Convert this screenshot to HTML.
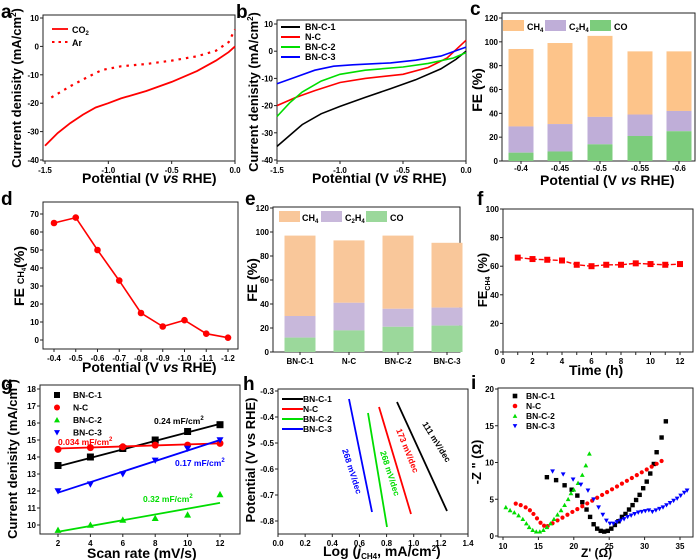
<!DOCTYPE html>
<html><head><meta charset="utf-8"><style>
body{margin:0;background:#fff}
svg{display:block;font-family:"Liberation Sans",Arial,sans-serif;font-weight:bold}
</style></head><body>
<svg id="s" width="700" height="560" viewBox="0 0 700 560" xmlns="http://www.w3.org/2000/svg"></svg>
<script>
const S=document.getElementById('s');let H='';
function L(a,b,c,d){return (v)=>c+(v-a)*(d-c)/(b-a);}
function box(x0,x1,y0,y1){H+=`<rect x="${x0}" y="${y0}" width="${x1-x0}" height="${y1-y0}" fill="none" stroke="#222" stroke-width="1"/>`;}
function xt(X,vals,y1,fmt,lab=true){vals.forEach(v=>{const x=X(v);H+=`<line x1="${x}" y1="${y1}" x2="${x}" y2="${y1+3}" stroke="#222"/>`;if(lab)H+=`<text x="${x}" y="${y1+12}" font-size="8" text-anchor="middle">${fmt(v)}</text>`;});}
function yt(Y,vals,x0,fmt){vals.forEach(v=>{const y=Y(v);H+=`<line x1="${x0-3}" y1="${y}" x2="${x0}" y2="${y}" stroke="#222"/><text x="${x0-4}" y="${y+3}" font-size="8" text-anchor="end">${fmt(v)}</text>`;});}
function pl(X,Y,pts,col,w=1.6,dash=''){H+=`<polyline fill="none" stroke="${col}" stroke-width="${w}" ${dash?`stroke-dasharray="${dash}"`:''} points="${pts.map(p=>X(p[0]).toFixed(1)+','+Y(p[1]).toFixed(1)).join(' ')}"/>`;}
function T(x,y,t,fs,extra=''){H+=`<text x="${x}" y="${y}" font-size="${fs}" ${extra}>${t}</text>`;}
function yl(x,y,t,fs=13){H+=`<text transform="translate(${x},${y}) rotate(-90)" font-size="${fs}" text-anchor="middle">${t}</text>`;}
const f1=v=>v.toFixed(1),f0=v=>String(v);
// a
let X=L(-1.5,0,45,235),Y=L(10,-40,18,160);
box(43,235,15,161);xt(X,[-1.5,-1,-0.5,0],161,f1);yt(Y,[10,0,-10,-20,-30,-40],43,f0);
pl(X,Y,[[-1.5,-35],[-1.4,-30.5],[-1.3,-27],[-1.2,-24],[-1.1,-21.5],[-1,-20],[-0.9,-18.3],[-0.7,-15.7],[-0.5,-12.5],[-0.3,-8.7],[-0.15,-5],[-0.05,-2],[0,0]],'#f00',1.8);
pl(X,Y,[[-1.45,-18],[-1.3,-14],[-1.15,-10.5],[-1.05,-8.3],[-0.9,-7],[-0.7,-6.2],[-0.5,-5],[-0.3,-3.5],[-0.15,-1.5],[-0.05,1.5],[0,6]],'#f00',2.2,'2.5,5');
H+=`<line x1="52" y1="29" x2="68" y2="29" stroke="#f00" stroke-width="1.8"/><line x1="52" y1="42" x2="68" y2="42" stroke="#f00" stroke-width="2" stroke-dasharray="2.5,4"/>`;
T(72,33,'CO<tspan font-size="6" dy="2">2</tspan>',9);T(72,46,'Ar',9);
T(1,18,'a',19);yl(21,88,'Current denisity (mA/cm<tspan font-size="8" dy="-5">2</tspan><tspan dy="5">)</tspan>');T(82,183,'Potential (V <tspan font-style="italic">vs</tspan> RHE)',14);
// b
X=L(-1.5,0,277,466);Y=L(10,-40,24,160);
box(277,466,20,161);xt(X,[-1.5,-1,-0.5,0],161,f1);yt(Y,[10,0,-10,-20,-30,-40],277,f0);
pl(X,Y,[[-1.5,-35],[-1.4,-31],[-1.3,-27],[-1.15,-23],[-1,-20.3],[-0.8,-17],[-0.6,-13.8],[-0.4,-10.5],[-0.2,-6.5],[-0.08,-3],[0,0]],'#000');
pl(X,Y,[[-1.5,-20],[-1.35,-17],[-1.2,-14.5],[-1,-11.5],[-0.8,-10],[-0.5,-8.5],[-0.3,-6],[-0.15,-2.5],[0,4]],'#f00');
pl(X,Y,[[-1.5,-24],[-1.4,-19],[-1.3,-15],[-1.15,-11],[-1,-8.5],[-0.8,-7],[-0.5,-5.8],[-0.3,-4.5],[-0.1,-2.5],[0,-0.5]],'#0d0');
pl(X,Y,[[-1.5,-12],[-1.35,-9.5],[-1.2,-7],[-1.05,-5.5],[-0.9,-5],[-0.6,-4.3],[-0.4,-3.3],[-0.2,-1.8],[0,1.5]],'#00f');
[['BN-C-1','#000'],['N-C','#f00'],['BN-C-2','#0d0'],['BN-C-3','#00f']].forEach((e,i)=>{const y=27+i*10;H+=`<line x1="281" y1="${y}" x2="300" y2="${y}" stroke="${e[1]}" stroke-width="2"/>`;T(305,y+3,e[0],9);});
T(236,18,'b',19);yl(258,92,'Current denisity (mA/cm<tspan font-size="8" dy="-5">2</tspan><tspan dy="5">)</tspan>');T(312,183,'Potential (V <tspan font-style="italic">vs</tspan> RHE)',14);
// bars
function bars(Y,xs,data,w,cols){data.forEach((d,i)=>{const x=xs[i]-w/2;H+=`<rect x="${x}" y="${Y(d[2])}" width="${w}" height="${Y(d[1])-Y(d[2])}" fill="${cols[0]}"/><rect x="${x}" y="${Y(d[1])}" width="${w}" height="${Y(d[0])-Y(d[1])}" fill="${cols[1]}"/><rect x="${x}" y="${Y(d[0])}" width="${w}" height="${Y(0)-Y(d[0])}" fill="${cols[2]}"/>`;});}
// c
Y=L(120,0,18,161);box(502,695,13,161);yt(Y,[0,20,40,60,80,100,120],502,f0);
let xs=[521,560,600,640,679];bars(Y,xs,[[7,29,94],[8,31,99],[14,37,105],[21,39,92],[25,42,92]],25,['#fdc48a','#bfaed8','#7ccc7c']);
xs.forEach((x,i)=>{H+=`<line x1="${x}" y1="161" x2="${x}" y2="164" stroke="#222"/>`;T(x,171,['-0.4','-0.45','-0.5','-0.55','-0.6'][i],8,'text-anchor="middle"');});
H+=`<rect x="503" y="20" width="21" height="11" fill="#fdc48a"/><rect x="545" y="20" width="21" height="11" fill="#bfaed8"/><rect x="590" y="20" width="21" height="11" fill="#7ccc7c"/>`;
T(527,30,'CH<tspan font-size="6" dy="2">4</tspan>',9);T(569,30,'C<tspan font-size="6" dy="2">2</tspan><tspan dy="-2">H</tspan><tspan font-size="6" dy="2">4</tspan>',9);T(614,30,'CO',9);
T(470,15,'c',19);yl(482,90,'FE (%)',14);T(540,185,'Potential (V <tspan font-style="italic">vs</tspan> RHE)',14);
// d
X=L(-0.4,-1.2,54,228);Y=L(70,0,214,340);
box(43,238,202,349);xt(X,[-0.4,-0.5,-0.6,-0.7,-0.8,-0.9,-1,-1.1,-1.2],349,f1);yt(Y,[0,10,20,30,40,50,60,70],43,f0);
let dd=[[-0.4,65],[-0.5,68],[-0.6,50],[-0.7,33],[-0.8,15],[-0.9,7.5],[-1,11],[-1.1,3.5],[-1.2,1.3]];pl(X,Y,dd,'#f00',1.6);
dd.forEach(p=>H+=`<circle cx="${X(p[0])}" cy="${Y(p[1])}" r="3.3" fill="#f00"/>`);
T(1,205,'d',19);yl(24,276,'FE <tspan font-size="9">CH</tspan><tspan font-size="6" dy="2">4</tspan><tspan dy="-2">(%)</tspan>',14);T(82,372,'Potential (V <tspan font-style="italic">vs</tspan> RHE)',14);
// e
Y=L(120,0,208,352);box(273,460,207,352);yt(Y,[0,20,40,60,80,100,120],273,f0);
xs=[300,349,398,447];bars(Y,xs,[[12,30,97],[18,41,93],[21,36,97],[22,37,91]],31,['#f9c79a','#c8b8db','#9bd89b']);
xs.forEach((x,i)=>{H+=`<line x1="${x}" y1="352" x2="${x}" y2="355" stroke="#222"/>`;T(x,364,['BN-C-1','N-C','BN-C-2','BN-C-3'][i],8,'text-anchor="middle"');});
H+=`<rect x="279" y="211" width="21" height="11" fill="#f9c79a"/><rect x="321" y="211" width="21" height="11" fill="#c8b8db"/><rect x="366" y="211" width="21" height="11" fill="#9bd89b"/>`;
T(302,221,'CH<tspan font-size="6" dy="2">4</tspan>',9);T(345,221,'C<tspan font-size="6" dy="2">2</tspan><tspan dy="-2">H</tspan><tspan font-size="6" dy="2">4</tspan>',9);T(390,221,'CO',9);
T(245,205,'e',19);yl(257,280,'FE (%)',14);
// f
X=L(0,12,503,680);Y=L(100,0,209,352);
box(503,693,209,352);xt(X,[0,2,4,6,8,10,12],352,f0);yt(Y,[0,20,40,60,80,100],503,f0);
for(let v=1;v<12;v+=2)xt(X,[v],352,f0,false);
let fd=[[1,66],[2,65],[3,64.5],[4,64],[5,61],[6,60],[7,61],[8,61],[9,62],[10,61.5],[11,61],[12,61.5]];pl(X,Y,fd,'#f00',1.4,'5,2');
fd.forEach(p=>H+=`<rect x="${X(p[0])-3}" y="${Y(p[1])-3}" width="6" height="6" fill="#f00"/>`);
T(477,205,'f',19);yl(487,280,'FE<tspan font-size="7" dy="3">CH4</tspan><tspan dy="-3"> (%)</tspan>',13);T(569,375,'Time (h)',14);
// g
X=L(2,12,58,220);Y=L(18,10,389,525);
box(40,240,385,534);xt(X,[2,4,6,8,10,12],534,f0);yt(Y,[10,11,12,13,14,15,16,17,18],40,f0);
const gs=[['#000',[13.5,14,14.5,15,15.5,15.9],[13.45,15.95],'s'],['#f00',[14.45,14.55,14.6,14.7,14.7,14.8],[14.5,14.8],'c'],['#0d0',[9.7,10,10.3,10.4,10.6,11.8],[9.6,11.3],'t'],['#00f',[12,12.4,13,13.8,14.5,15],[11.9,15]
,'v']];
function mk(x,y,t,c,r=3.5){if(t=='s')return `<rect x="${x-r}" y="${y-r}" width="${2*r}" height="${2*r}" fill="${c}"/>`;if(t=='c')return `<circle cx="${x}" cy="${y}" r="${r}" fill="${c}"/>`;if(t=='t')return `<polygon points="${x},${y-r} ${x+r},${y+r*0.8} ${x-r},${y+r*0.8}" fill="${c}"/>`;return `<polygon points="${x},${y+r} ${x+r},${y-r*0.8} ${x-r},${y-r*0.8}" fill="${c}"/>`;}
gs.forEach(g=>{pl(X,Y,[[2,g[2][0]],[12,g[2][1]]],g[0],1.8);g[1].forEach((v,i)=>H+=mk(X(2+2*i),Y(v),g[3],g[0]));});
[['BN-C-1','s','#000'],['N-C','c','#f00'],['BN-C-2','t','#0d0'],['BN-C-3','v','#00f']].forEach((e,i)=>{const y=395+i*12.5;H+=mk(57,y,e[1],e[2],3);T(73,y+3,e[0],8.5);});
T(154,424,'0.24 mF/cm<tspan font-size="6" dy="-4">2</tspan>',8.5,'fill="#000"');T(58,445,'0.034 mF/cm<tspan font-size="6" dy="-4">2</tspan>',8.5,'fill="#f00"');
T(175,466,'0.17 mF/cm<tspan font-size="6" dy="-4">2</tspan>',8.5,'fill="#00f"');T(143,502,'0.32 mF/cm<tspan font-size="6" dy="-4">2</tspan>',8.5,'fill="#0d0"');
T(1,390,'g',19);yl(17,459,'Current denisity (mA/cm<tspan font-size="8" dy="-5">2</tspan><tspan dy="5">)</tspan>');T(87,558,'Scan rate (mV/s)',14);
// h
X=L(0,1.4,278,468);Y=L(-0.3,-0.8,391,521);
box(278,468,389,534);xt(X,[0,0.2,0.4,0.6,0.8,1,1.2,1.4],534,f1);yt(Y,[-0.3,-0.4,-0.5,-0.6,-0.7,-0.8],278,f1);
[[397,402,447,511,'#000'],[379,407,411,514,'#f00'],[368,413,387,527,'#0d0'],[349,399,372,512,'#00f']].forEach(l=>H+=`<line x1="${l[0]}" y1="${l[1]}" x2="${l[2]}" y2="${l[3]}" stroke="${l[4]}" stroke-width="1.8"/>`);
[['BN-C-1','#000'],['N-C','#f00'],['BN-C-2','#0d0'],['BN-C-3','#00f']].forEach((e,i)=>{const y=399+i*10;H+=`<line x1="282" y1="${y}" x2="303" y2="${y}" stroke="${e[1]}" stroke-width="2"/>`;T(303,y+3,e[0],8.5);});
T(422,424,'111 mV/dec',8.5,'transform="rotate(58 422 424)"');T(396,430,'173 mV/dec',8.5,'fill="#f00" transform="rotate(68 396 430)"');
T(380,452,'268 mV/dec',8.5,'fill="#0d0" transform="rotate(72 380 452)"');T(342,450,'268 mV/dec',8.5,'fill="#00f" transform="rotate(72 342 450)"');
T(243,390,'h',19);yl(255,460,'Potential (V vs RHE)',13);T(323,556,'Log (<tspan font-style="italic">j</tspan><tspan font-size="8" dy="3">CH4</tspan><tspan dy="-3">, mA/cm</tspan><tspan font-size="8" dy="-5">2</tspan><tspan dy="5">)</tspan>',14);
// i
X=L(10,35,503,680);Y=L(20,0,389,536);
box(498,693,388,537);xt(X,[10,15,20,25,30,35],537,f0);yt(Y,[0,5,10,15,20],498,f0);
const ib=[[16.2,8],[17.5,7.6],[18.7,6.9],[19.7,6.3],[20.5,5.5],[21.2,4.6],[21.8,3.6],[22.3,2.6],[22.8,1.6],[23.3,1],[23.8,0.7],[24.3,0.6],[24.8,0.7],[25.3,1],[25.8,1.5],[26.3,2],[26.8,2.6],[27.3,3],[27.8,3.6],[28.3,4.2],[28.8,4.9],[29.3,5.6],[29.8,6.5],[30.3,7.4],[30.8,8.5],[31.3,9.8],[31.7,11.4],[32.4,13.4],[33,15.6]];
ib.forEach(p=>H+=mk(X(p[0]),Y(p[1]),'s','#000',2.2));
const ir=[[11.8,4.4],[12.5,4.2],[13.2,3.9],[13.8,3.5],[14.3,3],[14.8,2.4],[15.3,1.8],[15.8,1.4]];for(let x=16.3;x<=32.8;x+=0.7)ir.push([x,1.35+(x-16.3)*0.55]);
ir.forEach(p=>H+=mk(X(p[0]),Y(p[1]),'c','#f00',2.1));
const ig=[[10.4,3.9],[11,3.5],[11.6,3.2],[12.2,2.8],[12.8,2.3],[13.3,1.7],[13.7,1.2],[14.2,0.8],[14.7,0.6],[15.2,0.6],[15.7,0.8],[16.2,1.2],[16.7,1.7],[17.2,2.3],[17.7,2.9],[18.2,3.5],[18.7,4.2],[19.2,5],[19.6,5.8],[20,6.3],[20.6,7.2],[21.2,8.3],[21.7,9.6],[22.2,11.2]];
ig.forEach(p=>H+=mk(X(p[0]),Y(p[1]),'t','#0d0',2.4));
const iv=[[17,8.8],[18.5,8.4],[19.9,7.7],[21,7],[22,6.2],[22.8,5],[23.5,3.9],[24.1,2.9],[24.6,2.1],[25.1,1.7],[25.6,1.7],[26.1,1.9],[26.6,2.1],[27.1,2.3],[27.6,2.6],[28.1,2.8],[28.6,3],[29.1,3.2],[29.6,3.3],[30.1,3.4],[30.6,3.5],[31.1,3.3],[31.6,3.5],[32.1,3.7],[32.6,3.9],[33.1,4.2],[33.6,4.5],[34.1,4.8],[34.6,5.1],[35.1,5.5],[35.6,5.9],[36,6.2]];
iv.forEach(p=>H+=mk(X(p[0]),Y(p[1]),'v','#00f',2.4));
[['BN-C-1','s','#000'],['N-C','c','#f00'],['BN-C-2','t','#0d0'],['BN-C-3','v','#00f']].forEach((e,i)=>{const y=396+i*10;H+=mk(515,y,e[1],e[2],2.3);T(526,y+3,e[0],8.5);});
T(471,389,'i',19);yl(481,462,'-Z &quot; (Ω)',13);T(581,557,"Z' (Ω)",12);
S.innerHTML=H;
</script>
</body></html>
